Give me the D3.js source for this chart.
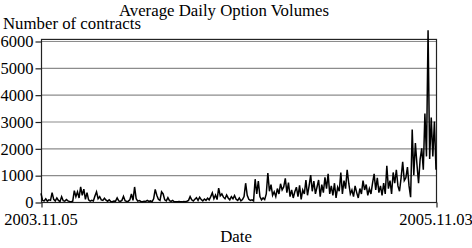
<!DOCTYPE html>
<html>
<head>
<meta charset="utf-8">
<script src="https://cdn.jsdelivr.net/npm/d3@7"></script>
<style>
  body { margin: 0; background: #fff; }
  svg { display: block; }
  text { font-family: "Liberation Serif", "Times New Roman", serif; fill: #000; }
</style>
</head>
<body>
<div id="chart"></div>
<script>
// daily volume readings, evenly spaced from first to last date
const volumes = [
  320, 60, 40, 120, 30, 80, 60, 350, 100, 40,
  150, 60, 20, 200, 50, 30, 90, 40, 20, 10,
  30, 420, 200, 380, 150, 560, 250, 480, 100, 350,
  80, 30, 60, 40, 220, 380, 120, 200, 80, 60,
  140, 70, 30, 80, 20, 10, 40, 30, 150, 40,
  20, 60, 210, 50, 20, 30, 80, 300, 60, 560,
  120, 30, 50, 20, 10, 30, 20, 60, 20, 40,
  10, 120, 470, 250, 100, 60, 380, 300, 80, 40,
  160, 50, 20, 60, 10, 5, 10, 20, 10, 5,
  20, 10, 30, 60, 200, 80, 40, 100, 160, 60,
  180, 90, 40, 110, 60, 140, 80, 200, 340, 120,
  260, 90, 520, 230, 300, 180, 120, 260, 150, 80,
  200, 120, 240, 100, 60, 150, 40, 90, 200, 700,
  250, 100, 60, 80, 40, 850, 300, 780, 200, 80,
  150, 90, 300, 1080, 400, 650, 250, 380, 200, 500,
  300, 680, 450, 560, 880, 350, 720, 200, 450, 150,
  380, 550, 200, 620, 100, 450, 300, 820, 250, 600,
  1000, 400, 780, 300, 560, 820, 200, 650, 350, 920,
  500, 1050, 300, 600, 250, 700, 150, 550, 400, 1100,
  300, 800, 500, 1200, 700, 300, 450, 200, 600, 350,
  150, 500, 300, 800, 450, 650, 250, 500, 300, 700,
  1050, 450, 900, 350, 600, 250, 700, 300, 1350, 500,
  800, 300, 1100, 700, 1200, 600, 400, 900, 1500, 800,
  900, 1300, 600, 180, 2700, 1000, 2200, 1400, 700, 1600,
  2000, 1200, 3300, 1700, 6400, 1600, 3150, 1700, 3000, 1200
];
const dateLabels = ["2003.11.05", "2005.11.03"];
const yTicks = [0, 1000, 2000, 3000, 4000, 5000, 6000];

const width = 472, height = 248;
const margin = { top: 41, right: 36, bottom: 46, left: 41 };

const svg = d3.select("#chart")
  .append("svg")
  .attr("width", width)
  .attr("height", height);

const x = d3.scaleLinear()
  .domain([0, volumes.length - 1])
  .range([margin.left, width - margin.right]);

const y = d3.scaleLinear()
  .domain([0, 6000])
  .range([height - margin.bottom, margin.top]);

// gridlines
svg.append("g")
  .selectAll("line")
  .data(yTicks.filter(d => d > 0))
  .join("line")
  .attr("x1", margin.left)
  .attr("x2", width - margin.right)
  .attr("y1", d => y(d) + 0.5)
  .attr("y2", d => y(d) + 0.5)
  .attr("stroke", "#8c8c8c")
  .attr("stroke-width", 1.2);

// frame
svg.append("rect")
  .attr("x", margin.left + 0.5)
  .attr("y", y(6040) - 0.5)
  .attr("width", width - margin.right - margin.left)
  .attr("height", y(0) - y(6040) + 1)
  .attr("fill", "none")
  .attr("stroke", "#222")
  .attr("stroke-width", 1.2);

// left axis
const yAxis = svg.append("g")
  .attr("transform", `translate(${margin.left + 0.5},0.5)`)
  .call(d3.axisLeft(y).tickValues(yTicks).tickSize(6).tickPadding(2).tickFormat(d3.format("d")));
yAxis.select(".domain").remove();
yAxis.selectAll("line").attr("stroke", "#222").attr("stroke-width", 1.2);
yAxis.selectAll("text")
  .style("font-family", "Liberation Serif, serif")
  .style("font-size", "16.5px")
  .attr("dy", "0.32em");

// bottom ticks at first and last date
const xAxis = svg.append("g")
  .attr("transform", `translate(0.5,${y(0) + 0.5})`)
  .call(d3.axisBottom(x)
    .tickValues([0, volumes.length - 1])
    .tickSize(5)
    .tickPadding(6)
    .tickFormat((d, i) => dateLabels[i]));
xAxis.select(".domain").remove();
xAxis.selectAll("line").attr("stroke", "#222").attr("stroke-width", 1.2);
xAxis.selectAll("text")
  .style("font-family", "Liberation Serif, serif")
  .style("font-size", "16.5px")
  .attr("dx", "-1");

// series
const line = d3.line()
  .x((d, i) => x(i))
  .y(d => y(d));

svg.append("path")
  .datum(volumes)
  .attr("fill", "none")
  .attr("stroke", "#000")
  .attr("stroke-width", 1.5)
  .attr("stroke-linejoin", "miter")
  .attr("d", line);

// titles
svg.append("text")
  .attr("x", 224)
  .attr("y", 16)
  .attr("text-anchor", "middle")
  .style("font-size", "16.8px")
  .text("Average Daily Option Volumes");

svg.append("text")
  .attr("x", 3)
  .attr("y", 29)
  .style("font-size", "16.8px")
  .text("Number of contracts");

svg.append("text")
  .attr("x", 236)
  .attr("y", 242)
  .attr("text-anchor", "middle")
  .style("font-size", "16.8px")
  .text("Date");
</script>
</body>
</html>
